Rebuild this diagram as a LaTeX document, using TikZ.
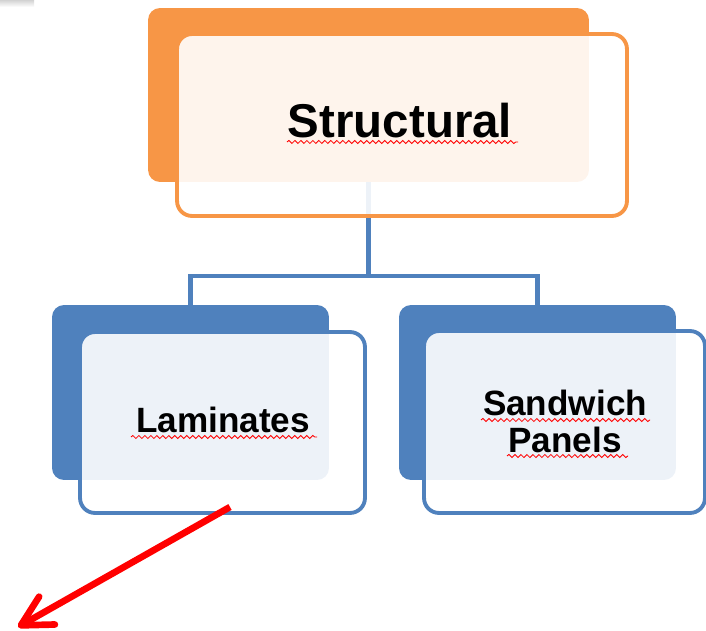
\documentclass[tikz,border=0pt]{standalone}
\usepackage{xcolor}
\usepackage{fontspec}
\setmainfont{Liberation Sans}
\usepackage{tikz}
\usetikzlibrary{arrows.meta}
\usetikzlibrary{decorations.pathmorphing}

\definecolor{laranja}{HTML}{F79646}
\definecolor{azul}{HTML}{4F81BD}

\begin{document}
\begin{tikzpicture}[x=0.02cm, y=-0.02cm,
    fundo/.style={rounded corners=0.24cm, inner sep=0pt},
    frente/.style={line width=2.2pt, fill=white, fill opacity=0.9, rounded corners=0.3cm, inner sep=0pt},
    ligacao/.style={azul, line width=2.3pt},
    texto/.style={font=\bfseries\fontsize{20}{21}\selectfont, inner sep=1pt, align=center},
    ondinha/.style={red, line width=0.5pt, decorate, decoration={snake, segment length=1.2mm, amplitude=0.3mm}}]
    \useasboundingbox (0,0) rectangle (706,631);

    % Faixa cinza no canto
    \fill[top color=gray!35, bottom color=white] (0,0) rectangle (34,7);

    % Caixas de fundo
    \node[fundo, fill=laranja, minimum width=8.82cm, minimum height=3.48cm] (estrFundo) at (368.5,95) {};
    \node[fundo, fill=azul, minimum width=5.54cm, minimum height=3.5cm] (lamFundo) at (190.5,392.5) {};
    \node[fundo, fill=azul, minimum width=5.54cm, minimum height=3.5cm] (sanFundo) at (537.5,392.5) {};

    % Ligacoes
    \draw[ligacao] (estrFundo.south) -- ++(0,94) -| (lamFundo.north);
    \draw[ligacao] (estrFundo.south) -- ++(0,94) -| (sanFundo.north);

    % Caixas da frente
    \node[frente, draw=laranja, minimum width=9cm, minimum height=3.64cm] (estr) at (402,125) {};
    \node[frente, draw=azul, minimum width=5.7cm, minimum height=3.62cm] (lam) at (222.5,422.5) {};
    \node[frente, draw=azul, minimum width=5.62cm, minimum height=3.64cm] (san) at (564.5,422) {};

    % Textos
    \node[texto, font=\bfseries\fontsize{27}{30}\selectfont, anchor=base] (estrTxt) at (400,138) {Structural};
    \node[texto, anchor=base] (lamTxt) at (223,432) {Laminates};
    \node[texto] (sanTxt) at (565,421) {Sandwich\\Panels};

    % Sublinhados
    \draw[ondinha] (287,142) -- (518,142);
    \draw[ondinha] (131,437) -- (317,437);
    \draw[ondinha] (481,420) -- (650,420);
    \draw[ondinha] (507,456) -- (628,456);

    % Seta vermelha
    \coordinate (setaIni) at (230,507);
    \coordinate (setaFim) at (18,627);
    \draw[red, line width=3.8pt, -{Straight Barb[length=0.6cm, width=0.64cm, round]}] (setaIni) -- (setaFim);

\end{tikzpicture}
\end{document}
